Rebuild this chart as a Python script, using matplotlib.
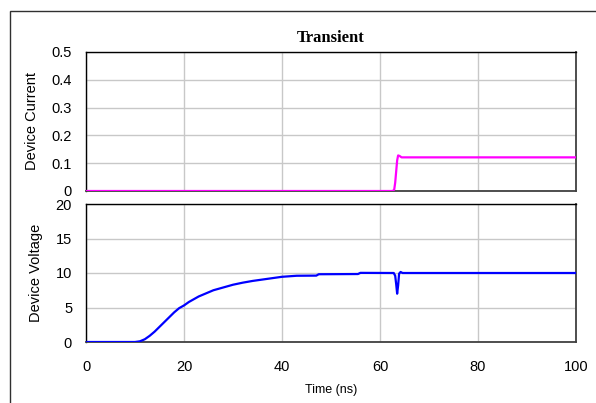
import matplotlib
matplotlib.use("Agg")
import matplotlib.pyplot as plt
from matplotlib.patches import Rectangle

plt.rcParams['font.family'] = ['Liberation Sans', 'DejaVu Sans']

# Device current (A) vs time (ns)
t_current = [0, 62.6, 62.9, 63.1, 63.3, 63.5, 63.7, 64.0, 64.4, 100]
i_current = [0, 0, 0.005, 0.03, 0.07, 0.11, 0.128, 0.126, 0.121, 0.121]

# Device voltage (V) vs time (ns)
t_voltage = [0, 10.0, 11.0, 12.0, 13.0, 14.0, 15.0, 16.0, 17.0, 18.0, 19.0,
             20.0, 21.0, 22.0, 23.0, 24.0, 26.0, 28.0, 30.0, 32.0, 34.0,
             36.0, 38.0, 40.0, 43.0, 47.0, 47.5, 55.5, 56.0, 62.8, 63.1,
             63.3, 63.5, 63.7, 63.9, 64.2, 64.6, 100]
v_voltage = [0, 0, 0.1, 0.4, 0.9, 1.5, 2.2, 2.9, 3.6, 4.3, 4.9,
             5.3, 5.8, 6.2, 6.6, 6.9, 7.5, 7.9, 8.3, 8.6, 8.85,
             9.05, 9.25, 9.45, 9.6, 9.62, 9.82, 9.85, 10.02, 10.0, 9.6,
             8.4, 7.0, 8.2, 9.9, 10.15, 10.0, 10.0]

current_ticks = [0, 0.1, 0.2, 0.3, 0.4, 0.5]
current_ticklabels = ['0', '0.1', '0.2', '0.3', '0.4', '0.5']
voltage_ticks = [0, 5, 10, 15, 20]
time_ticks = [0, 20, 40, 60, 80, 100]

W, H = 596, 403
fig = plt.figure(figsize=(W / 100, H / 100), dpi=100)

def ax_rect(x0, y0, x1, y1):
    return [x0 / W, 1 - y1 / H, (x1 - x0) / W, (y1 - y0) / H]

ax1 = fig.add_axes(ax_rect(86, 52, 576, 191))
ax2 = fig.add_axes(ax_rect(86, 204, 576, 342))

grid_color = '#c8c8c8'
for ax in (ax1, ax2):
    ax.set_xlim(0, 100)
    ax.set_xticks(time_ticks)
    ax.grid(True, color=grid_color, linewidth=1.0)
    ax.set_axisbelow(True)
    ax.tick_params(length=0, labelsize=10.5)
    ax.tick_params(axis='y', pad=10)
    for side in ('top', 'left'):
        ax.spines[side].set_color('black')
        ax.spines[side].set_linewidth(1.0)
    for side in ('bottom', 'right'):
        ax.spines[side].set_color('#404040')
        ax.spines[side].set_linewidth(1.3)

ax1.plot(t_current, i_current, color='#ff00ff', linewidth=1.6, zorder=3)
ax1.set_ylim(0, 0.5)
ax1.set_yticks(current_ticks)
ax1.set_yticklabels(current_ticklabels)
ax1.tick_params(axis='x', labelbottom=False)
ax1.set_ylabel('Device Current', fontsize=10.5, labelpad=9)
ax1.set_title('Transient', fontsize=12, fontweight='bold',
              family=['Liberation Serif', 'DejaVu Serif'], pad=7)

ax2.plot(t_voltage, v_voltage, color='#0000ff', linewidth=1.6, zorder=3)
ax2.set_ylim(0, 20)
ax2.set_yticks(voltage_ticks)
ax2.set_ylabel('Device Voltage', fontsize=10.5, labelpad=9)
ax2.set_xlabel('Time (ns)', fontsize=9, labelpad=7)
ax2.tick_params(axis='x', pad=13)

fig.align_ylabels([ax1, ax2])

# Outer chart frame
fig.patches.append(Rectangle((10 / W, -0.05), 1.1, 1 - 11 / H + 0.05,
                             transform=fig.transFigure, fill=False,
                             edgecolor='#303030', linewidth=1.0))

fig.savefig('out.png', dpi=100)
